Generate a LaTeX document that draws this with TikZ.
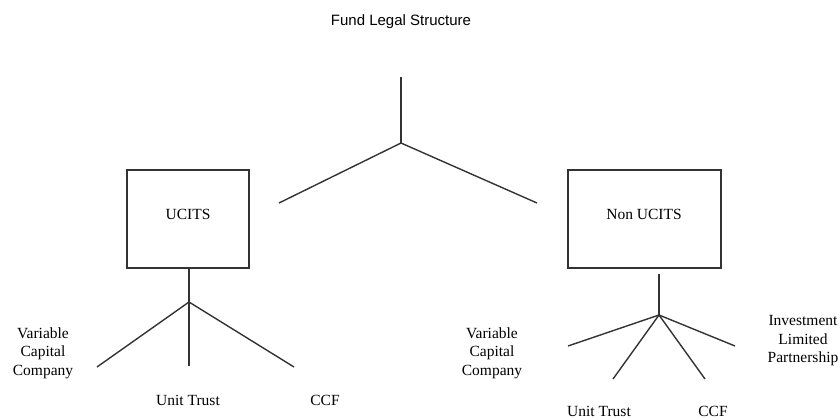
\documentclass[tikz,border=0pt]{standalone}
\usepackage{fontspec}
\setmainfont{Liberation Serif}
\setsansfont{Liberation Sans}
\begin{document}
\begin{tikzpicture}[x=1pt,y=-1pt,
  lbl/.style={font=\fontsize{15.5}{18.5}\selectfont, align=center, inner sep=0pt},
  boxline/.style={draw=black!80, line width=1.8pt},
  ln/.style={draw=black!80, line width=1.4pt}]
\useasboundingbox (0,0) rectangle (840,418);
\node[font=\sffamily\fontsize{15}{18}\selectfont, inner sep=0pt] (title) at (401,22) {Fund Legal Structure};
% top tree
\coordinate (t0) at (401,77);
\coordinate (t1) at (401,143);
\coordinate (tl) at (279,203);
\coordinate (tr) at (537,203);
\draw[ln] (t0) -- (t1);
\draw[ln] (tl) -- (t1) -- (tr);
% boxes
\draw[boxline] (127,170) rectangle (249,268);
\node[lbl] (ucits) at (188,214) {UCITS};
\draw[boxline] (568,170) rectangle (721,268);
\node[lbl] (nonucits) at (644,214) {Non UCITS};
\coordinate (ub) at (189,268);
\coordinate (nb) at (659,274);
% UCITS tree
\coordinate (uj) at (189,302);
\coordinate (u1) at (97,367);
\coordinate (u2) at (189,366);
\coordinate (u3) at (294,367);
\draw[ln] (ub) -- (uj);
\draw[ln] (uj) -- (u1);
\draw[ln] (uj) -- (u2);
\draw[ln] (uj) -- (u3);
\node[lbl] (uvcc) at (43,353) {Variable\\Capital\\Company};
\node[lbl] (uut) at (188,400) {Unit Trust};
\node[lbl] (uccf) at (325,400) {CCF};
% Non UCITS tree
\coordinate (nj) at (659,315);
\coordinate (n1) at (568,346);
\coordinate (n2) at (613,379);
\coordinate (n3) at (705,379);
\coordinate (n4) at (735,346);
\draw[ln] (nb) -- (nj);
\draw[ln] (nj) -- (n1);
\draw[ln] (nj) -- (n2);
\draw[ln] (nj) -- (n3);
\draw[ln] (nj) -- (n4);
\node[lbl] (nvcc) at (492,353) {Variable\\Capital\\Company};
\node[lbl] (nilp) at (803,341) {Investment\\Limited\\Partnership};
\node[lbl] (nut) at (599,411) {Unit Trust};
\node[lbl] (nccf) at (713,411) {CCF};
\end{tikzpicture}
\end{document}
